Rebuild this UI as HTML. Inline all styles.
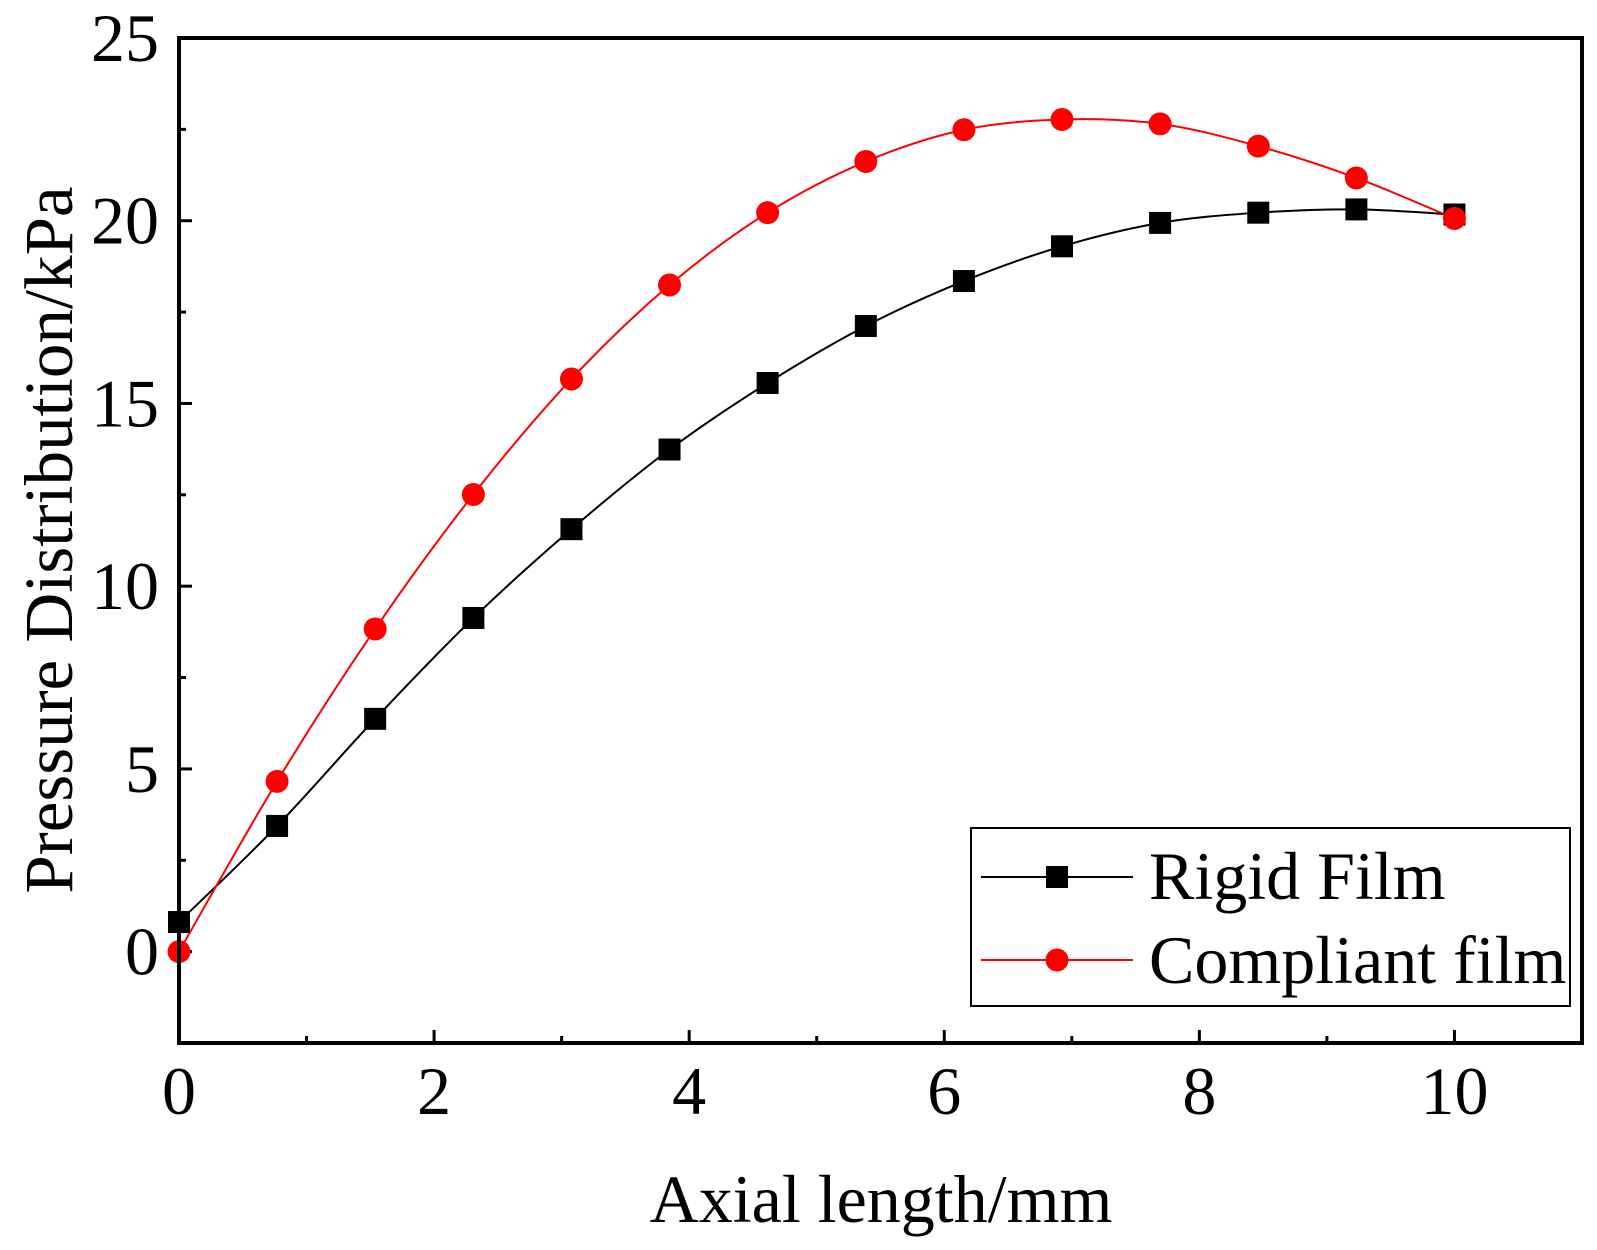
<!DOCTYPE html>
<html><head><meta charset="utf-8"><style>
html,body{margin:0;padding:0;background:#fff}
svg{display:block;font-family:"Liberation Serif",serif}
</style></head><body>
<svg id="chart" width="1597" height="1250" viewBox="0 0 1597 1250"></svg>
<script>
const xCats=[0,0.769,1.538,2.308,3.077,3.846,4.615,5.385,6.154,6.923,7.692,8.462,9.231,10];
const rigidVals=[0.81,3.44,6.37,9.13,11.56,13.74,15.56,17.12,18.35,19.30,19.94,20.22,20.31,20.17];
const compliantVals=[0,4.66,8.83,12.51,15.67,18.24,20.22,21.62,22.49,22.77,22.65,22.04,21.17,20.06];
const xTicks=[0,2,4,6,8,10];
const yTicks=[0,5,10,15,20,25];

const L=179,R=1582,T=38,B=1043;
const xMin=0,xMax=11,yMin=-2.5,yMax=25;
const X=v=>L+(v-xMin)/(xMax-xMin)*(R-L);
const Y=v=>B-(v-yMin)/(yMax-yMin)*(B-T);
const NS="http://www.w3.org/2000/svg";
const svg=document.getElementById('chart');
function mk(tag,attrs,parent){const e=document.createElementNS(NS,tag);for(const k in attrs)e.setAttribute(k,attrs[k]);(parent||svg).appendChild(e);return e;}

for(let v=0;v<=11;v+=1){
  const major=v%2===0;
  const t=mk('line',{x1:X(v),x2:X(v),y1:B,y2:B-(major?13:7),stroke:'#000','stroke-width':3});
  
  
}
for(let v=-2.5;v<=25;v+=2.5){
  const major=Math.abs(v%5)<1e-9;
  const t=mk('line',{x1:L,x2:L+(major?13:7),y1:Y(v),y2:Y(v),stroke:'#000','stroke-width':3});
  
  
}
xTicks.forEach(v=>{
  const t=mk('text',{x:X(v),y:1114,'font-size':68,'text-anchor':'middle'});
  t.textContent=v;
  
  
});
yTicks.forEach(v=>{
  const t=mk('text',{x:159,y:Y(v)+23,'font-size':68,'text-anchor':'end'});
  t.textContent=v;
  
  
});

function smooth(xs,ys){
  const p=xs.map((x,i)=>[X(x),Y(ys[i])]);
  let d='M'+p[0][0]+','+p[0][1];
  for(let i=0;i<p.length-1;i++){
    const p0=p[Math.max(0,i-1)],p1=p[i],p2=p[i+1],p3=p[Math.min(p.length-1,i+2)];
    const c1=[p1[0]+(p2[0]-p0[0])/6,p1[1]+(p2[1]-p0[1])/6];
    const c2=[p2[0]-(p3[0]-p1[0])/6,p2[1]-(p3[1]-p1[1])/6];
    d+=' C'+c1+' '+c2+' '+p2;
  }
  return d;
}
const lr=mk('path',{d:smooth(xCats,rigidVals),fill:'none',stroke:'#000','stroke-width':2});


const lc=mk('path',{d:smooth(xCats,compliantVals),fill:'none',stroke:'#f00','stroke-width':2});


xCats.forEach((x,i)=>{
  const s=mk('rect',{x:X(x)-11,y:Y(rigidVals[i])-11,width:22,height:22,fill:'#000'});
  
  
});
xCats.forEach((x,i)=>{
  const c=mk('circle',{cx:X(x),cy:Y(compliantVals[i]),r:11.5,fill:'#f00'});
  
  
});

const fr=mk('rect',{x:L,y:T,width:R-L,height:B-T,fill:'none',stroke:'#000','stroke-width':4});



const lg=mk('g',{});


mk('rect',{x:971,y:828,width:599,height:178,fill:'#fff',stroke:'#000','stroke-width':2},lg);
mk('line',{x1:981,x2:1133,y1:877,y2:877,stroke:'#000','stroke-width':2},lg);
mk('rect',{x:1046,y:866,width:22,height:22,fill:'#000'},lg);
const t1=mk('text',{x:1149,y:899,'font-size':68},lg);t1.textContent='Rigid Film';


mk('line',{x1:981,x2:1133,y1:960,y2:960,stroke:'#f00','stroke-width':2},lg);
mk('circle',{cx:1057,cy:960,r:11.5,fill:'#f00'},lg);
const t2=mk('text',{x:1149,y:983,'font-size':68},lg);t2.textContent='Compliant film';



const xt=mk('text',{x:881,y:1222,'font-size':68,'text-anchor':'middle'});
xt.textContent='Axial length/mm';


const yt=mk('text',{x:0,y:0,'font-size':69,'text-anchor':'middle',transform:'translate(72,540) rotate(-90)'});
yt.textContent='Pressure Distribution/kPa';


</script>
</body></html>
